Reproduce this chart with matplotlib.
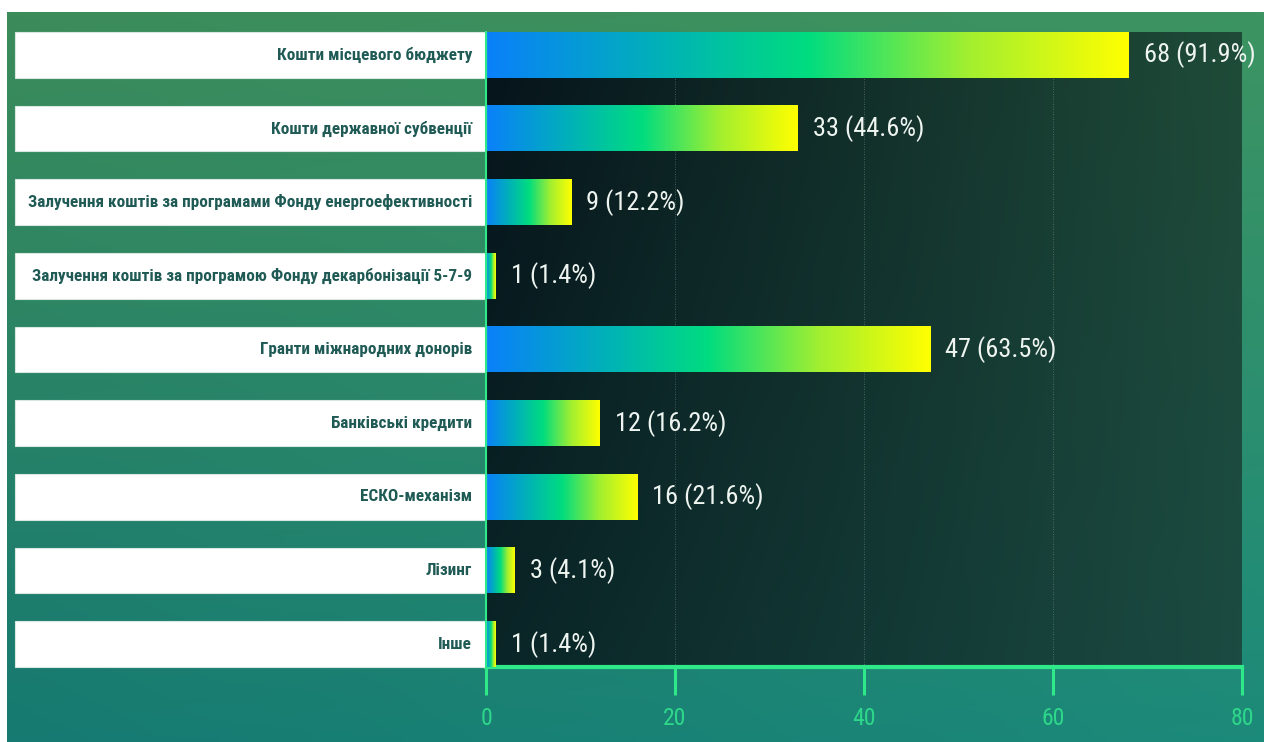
import numpy as np
import matplotlib
matplotlib.use('Agg')
import matplotlib.pyplot as plt
from matplotlib.colors import LinearSegmentedColormap, to_rgb
from matplotlib.patches import Rectangle
from matplotlib.transforms import blended_transform_factory
from matplotlib import font_manager

# джерела фінансування
categories = [
    'Кошти місцевого бюджету',
    'Кошти державної субвенції',
    'Залучення коштів за програмами Фонду енергоефективності',
    'Залучення коштів за програмою Фонду декарбонізації 5-7-9',
    'Гранти міжнародних донорів',
    'Банківські кредити',
    'ЕСКО-механізм',
    'Лізинг',
    'Інше',
]
counts = [68, 33, 9, 1, 47, 12, 16, 3, 1]
shares = [91.9, 44.6, 12.2, 1.4, 63.5, 16.2, 21.6, 4.1, 1.4]
x_ticks = [0, 20, 40, 60, 80]

installed = {f.name for f in font_manager.fontManager.ttflist}
FONT = [f for f in ['Ubuntu Condensed', 'Roboto Condensed', 'PT Sans Narrow',
                    'Fira Sans Condensed', 'Open Sans Condensed']
        if f in installed] + ['DejaVu Sans']
plt.rcParams['font.family'] = FONT

W, H = 1264, 742
fig = plt.figure(figsize=(W / 100, H / 100), dpi=100, facecolor='white')


def grad2d(c_tl, c_tr, c_bl, c_br, n=200):
    # білінійний градієнт з чотирьох кутів
    tl, tr, bl, br = [np.array(to_rgb(c)) for c in (c_tl, c_tr, c_bl, c_br)]
    u = np.linspace(0, 1, n)[None, :, None]
    v = np.linspace(0, 1, n)[:, None, None]
    top = tl * (1 - u) + tr * u
    bot = bl * (1 - u) + br * u
    return top * (1 - v) + bot * v


# тло всього слайду
bg = fig.add_axes([7 / W, 0, 1 - 7 / W, 1 - 12 / H], zorder=-10)
bg.imshow(grad2d('#3c8c5a', '#3d9462', '#167a72', '#1c8a7a'),
          aspect='auto', extent=(0, 1, 0, 1), origin='upper')
bg.set_axis_off()

ax = fig.add_axes([486 / W, 1 - 667 / H, (1242 - 486) / W, (667 - 32) / H])
ax.set_facecolor('none')

n = len(categories)
bar_h = 0.62
ax.set_xlim(0, 80)
ax.set_ylim(n - 1 + 0.31, -0.31)

# темна область графіка
ax.imshow(grad2d('#06131a', '#1f4b38', '#0a2527', '#1b4b42'),
          aspect='auto', extent=(0, 80, n - 1 + 0.31, -0.31),
          origin='upper', zorder=0)

bar_cmap = LinearSegmentedColormap.from_list(
    'bar', [(0, '#0a80fa'), (0.3, '#00b7b0'), (0.5, '#00dc80'),
            (0.75, '#a2ef30'), (1, '#ffff00')])
ramp = np.linspace(0, 1, 256)[None, :]

trans_lbl = blended_transform_factory(fig.transFigure, ax.transData)

for i, (cat, v, p) in enumerate(zip(categories, counts, shares)):
    ax.imshow(ramp, cmap=bar_cmap, aspect='auto',
              extent=(0, v, i + bar_h / 2, i - bar_h / 2), zorder=3)
    # біла плашка з назвою
    ax.add_patch(Rectangle((15 / W, i - bar_h / 2), (486 - 15) / W, bar_h,
                           transform=trans_lbl, facecolor='white',
                           edgecolor='#d8e8e0', lw=0.8, clip_on=False, zorder=4))
    ax.text(472 / W, i, cat, transform=trans_lbl, ha='right', va='center',
            fontsize=12.3, fontweight='bold', color='#1f5a55', zorder=5)
    ax.annotate(f'{v} ({p}%)', xy=(v, i), xytext=(11, 0),
                textcoords='offset points', ha='left', va='center',
                fontsize=19, color='#eef4f0', zorder=5,
                annotation_clip=False)

for x in x_ticks[1:-1]:
    ax.axvline(x, color='#9fb8b0', lw=0.6, ls=(0, (1, 2)), alpha=0.5, zorder=1)

green = '#2ee88a'
for s in ('top', 'right'):
    ax.spines[s].set_visible(False)
ax.spines['bottom'].set_color(green)
ax.spines['bottom'].set_linewidth(3)
ax.spines['left'].set_color(green)
ax.spines['left'].set_linewidth(1.5)
ax.spines['left'].set_zorder(6)

ax.set_yticks([])
ax.set_xticks(x_ticks)
ax.tick_params(axis='x', colors=green, length=20, width=2.2, pad=9,
               labelsize=17, labelcolor='#2ed88a')

fig.savefig('out.png', dpi=100, facecolor='white')
